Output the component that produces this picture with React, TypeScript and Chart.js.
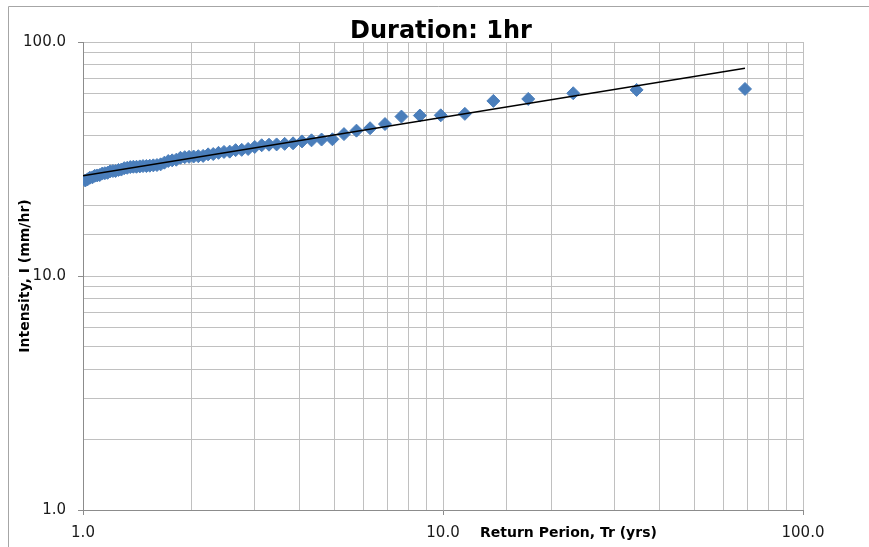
import React, { useEffect, useRef } from 'react';
import { Chart, registerables } from 'chart.js';

Chart.register(...registerables);

// Return period (Weibull plotting positions, yrs)
const returnPeriod = [
  1.015, 1.030, 1.045, 1.062, 1.078, 1.095, 1.113, 1.131, 1.150, 1.170, 1.190,
  1.211, 1.232, 1.255, 1.278, 1.302, 1.327, 1.353, 1.380, 1.408,
  1.438, 1.468, 1.500, 1.533, 1.568, 1.605, 1.643, 1.683, 1.725, 1.769,
  1.816, 1.865, 1.917, 1.971, 2.029, 2.091, 2.156, 2.226, 2.300, 2.379,
  2.464, 2.556, 2.654, 2.760, 2.875, 3.000, 3.136, 3.286, 3.450, 3.632,
  3.833, 4.059, 4.313, 4.600,
  4.929, 5.308, 5.750, 6.273, 6.900, 7.667, 8.625, 9.857, 11.50, 13.80,
  17.25, 23.00, 34.50, 69.00,
];

// Intensity (mm/hr)
const intensity = [
  25.6, 25.9, 26.3, 26.4, 26.8, 26.9, 27.0, 27.4, 27.5, 27.6, 28.0,
  28.1, 28.1, 28.4, 28.5, 28.9, 29.0, 29.2, 29.3, 29.3,
  29.4, 29.5, 29.5, 29.6, 29.7, 29.8, 30.0, 30.5, 31.0, 31.2,
  31.4, 32.0, 32.2, 32.3, 32.4, 32.5, 32.6, 33.1, 33.2, 33.6,
  33.9, 34.0, 34.5, 34.6, 34.9, 35.6, 36.2, 36.4, 36.5, 36.7,
  36.9, 37.6, 38.0, 38.3,
  38.4, 40.4, 41.8, 42.8, 44.6, 48.0, 48.5, 48.6, 49.3, 56.0,
  57.1, 60.4, 62.4, 63.0,
];

// Power trendline end points
const trendReturnPeriod = [1.0, 69.0];
const trendIntensity = [26.8, 77.2];

// Labelled ticks on both log axes
const labelledTicks = [1, 10, 100];

const chartTitle = 'Duration: 1hr';
const xAxisTitle = 'Return Perion, Tr (yrs)';
const yAxisTitle = 'Intensity, I (mm/hr)';

export default function App() {
  const canvasRef = useRef<HTMLCanvasElement>(null);

  useEffect(() => {
    const canvas = canvasRef.current;
    if (!canvas) return;

    const isLabelled = (v: number) => labelledTicks.some((t) => Math.abs(t - v) < 1e-9);

    const overlay = {
      id: 'overlay',
      afterDraw(chart: any) {
        const ctx = chart.ctx as CanvasRenderingContext2D;
        const area = chart.chartArea;
        ctx.save();
        // outer frame
        ctx.strokeStyle = '#a6a6a6';
        ctx.lineWidth = 1;
        ctx.beginPath();
        ctx.moveTo(8.5, 547);
        ctx.lineTo(8.5, 6.5);
        ctx.lineTo(869, 6.5);
        ctx.stroke();

        // main title
        ctx.fillStyle = '#000000';
        ctx.font = 'bold 24px "DejaVu Sans"';
        ctx.textAlign = 'center';
        ctx.textBaseline = 'alphabetic';
        ctx.fillText(chartTitle, 441, 38);

        // x axis title (inline with tick labels)
        ctx.font = 'bold 14px "DejaVu Sans"';
        ctx.textAlign = 'left';
        ctx.textBaseline = 'middle';
        ctx.fillText(xAxisTitle, 480, 533);

        // y axis title
        ctx.translate(29, (area.top + area.bottom) / 2);
        ctx.rotate(-Math.PI / 2);
        ctx.textAlign = 'center';
        ctx.textBaseline = 'alphabetic';
        ctx.fillText(yAxisTitle, 0, 0);
        ctx.restore();
      },
    };

    const tickFont = { family: '"DejaVu Sans"', size: 15 };
    const gridOpts = {
      color: '#c0c0c0',
      lineWidth: 1,
      drawTicks: true,
      tickLength: 5,
      tickColor: (c: any) => (c.tick && isLabelled(c.tick.value) ? '#8c8c8c' : 'rgba(0,0,0,0)'),
    };

    const chart = new Chart(canvas, {
      type: 'scatter',
      data: {
        datasets: [
          {
            label: 'Power trend',
            data: trendReturnPeriod.map((x, i) => ({ x, y: trendIntensity[i] })),
            showLine: true,
            borderColor: '#000000',
            borderWidth: 1.4,
            pointRadius: 0,
            fill: false,
            order: 0,
          },
          {
            label: 'Intensity',
            data: returnPeriod.map((x, i) => ({ x, y: intensity[i] })),
            showLine: false,
            pointStyle: 'rectRot',
            pointRadius: 6.5,
            pointBorderWidth: 1,
            backgroundColor: '#4a7ebb',
            borderColor: '#4a7ebb',
            order: 1,
          },
        ],
      },
      options: {
        responsive: false,
        maintainAspectRatio: false,
        animation: false,
        devicePixelRatio: 1,
        layout: { padding: { top: 42, right: 66, bottom: 0, left: 0 } },
        plugins: {
          legend: { display: false },
          tooltip: { enabled: false },
          title: { display: false },
        },
        scales: {
          x: {
            type: 'logarithmic',
            position: 'bottom',
            min: 1,
            max: 100,
            afterFit: (s: any) => {
              s.height = 37;
            },
            border: { color: '#8c8c8c', width: 1 },
            grid: gridOpts,
            ticks: {
              autoSkip: false,
              maxRotation: 0,
              padding: 9,
              color: '#1a1a1a',
              font: tickFont,
              callback: (v: any) => (isLabelled(Number(v)) ? Number(v).toFixed(1) : ''),
            },
          },
          y: {
            type: 'logarithmic',
            position: 'left',
            min: 1,
            max: 100,
            afterFit: (s: any) => {
              s.width = 83;
            },
            border: { color: '#8c8c8c', width: 1 },
            grid: gridOpts,
            ticks: {
              autoSkip: false,
              padding: 12,
              color: '#1a1a1a',
              font: tickFont,
              callback: (v: any) => (isLabelled(Number(v)) ? Number(v).toFixed(1) : ''),
            },
          },
        },
      },
      plugins: [overlay],
    } as any);

    return () => chart.destroy();
  }, []);

  return (
    <div style={{ position: 'fixed', left: 0, top: 0, width: 869, height: 547, background: '#ffffff' }}>
      <canvas ref={canvasRef} width={869} height={547} style={{ display: 'block', width: 869, height: 547 }} />
    </div>
  );
}
